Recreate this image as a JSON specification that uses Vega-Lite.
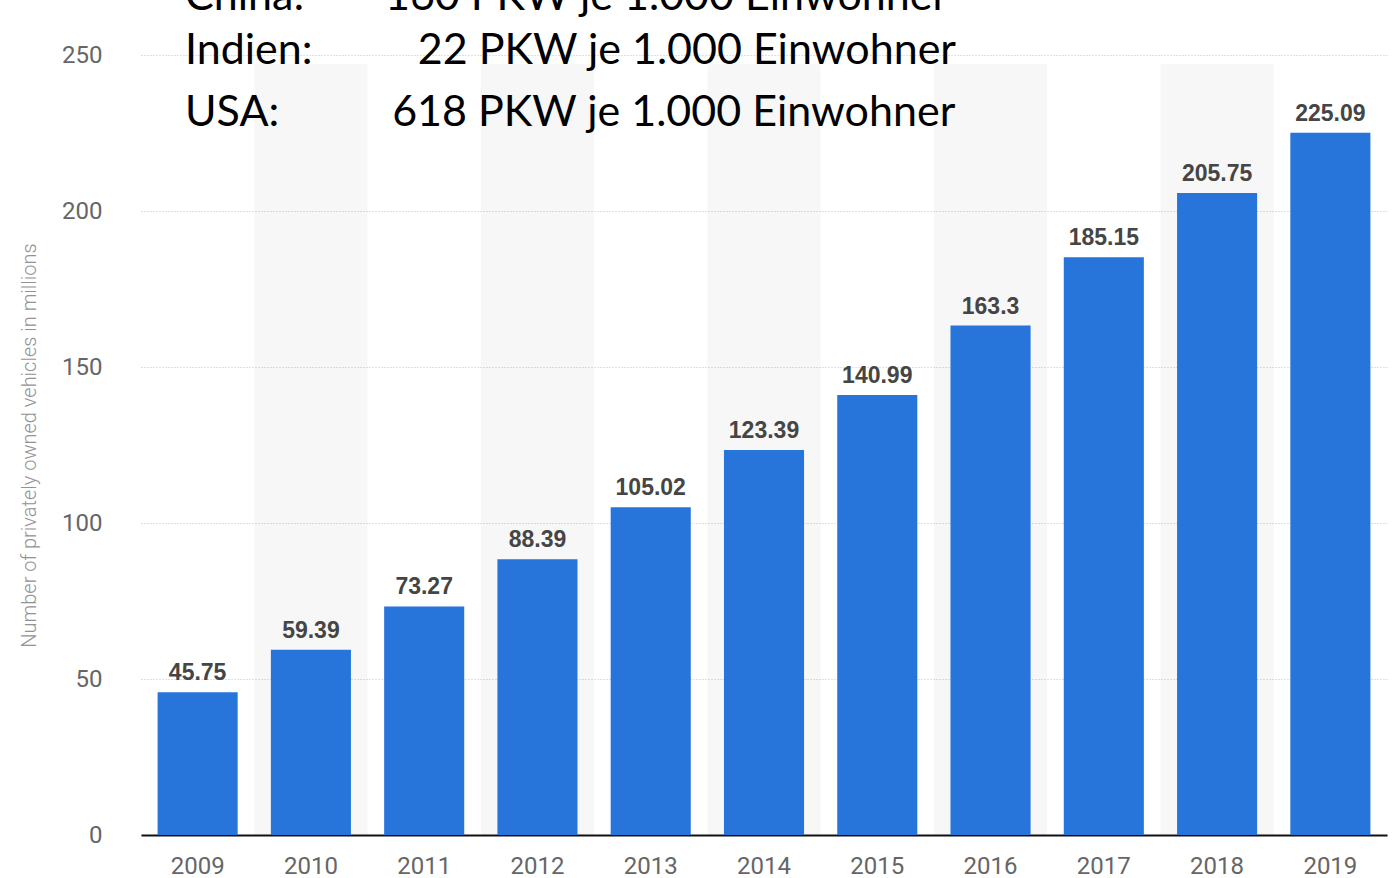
{
  "$schema": "https://vega.github.io/schema/vega-lite/v6.json",
  "width": 1246,
  "height": 780,
  "autosize": {"type": "none"},
  "padding": {"left": 141, "top": 55, "right": 5, "bottom": 43},
  "background": "white",
  "config": {
    "view": {"stroke": null},
    "axisX": {
      "labelAngle": 0,
      "labelAlign": "center",
      "labelBaseline": "top",
      "labelFont": "Roboto",
      "labelFontSize": 24,
      "labelColor": "#666666",
      "labelPadding": 19,
      "ticks": false,
      "domain": true,
      "domainColor": "#111111",
      "domainWidth": 2,
      "grid": false,
      "zindex": 1
    },
    "axisY": {
      "titleFont": "Roboto",
      "titleFontSize": 20,
      "titleFontWeight": 300,
      "titleColor": "#939393",
      "titlePadding": 22,
      "labelFont": "Roboto",
      "labelFontSize": 24,
      "labelColor": "#666666",
      "labelPadding": 39,
      "ticks": false,
      "domain": false,
      "grid": true,
      "gridColor": "#c0c0c0",
      "gridDash": [1, 2],
      "gridWidth": 1
    }
  },
  "layer": [
    {
      "data": {
        "values": [
          {"year": "2009", "vehicles": 45.75},
          {"year": "2010", "vehicles": 59.39},
          {"year": "2011", "vehicles": 73.27},
          {"year": "2012", "vehicles": 88.39},
          {"year": "2013", "vehicles": 105.02},
          {"year": "2014", "vehicles": 123.39},
          {"year": "2015", "vehicles": 140.99},
          {"year": "2016", "vehicles": 163.3},
          {"year": "2017", "vehicles": 185.15},
          {"year": "2018", "vehicles": 205.75},
          {"year": "2019", "vehicles": 225.09}
        ]
      },
      "layer": [
        {
          "transform": [{"filter": "toNumber(datum.year) % 2 == 0"}],
          "mark": {"type": "bar", "width": {"band": 1.4144}, "fill": "black", "opacity": 0.03},
          "encoding": {
            "x": {"field": "year", "type": "ordinal", "title": null},
            "y": {"datum": 0, "type": "quantitative", "title": "Number of privately owned vehicles in millions", "axis": {"values": [0, 50, 100, 150, 200, 250]}},
            "y2": {"datum": 247}
          }
        },
        {
          "mark": {"type": "bar", "color": "#2775db"},
          "encoding": {
            "x": {
              "field": "year",
              "type": "ordinal",
              "title": null,
              "scale": {"paddingInner": 0.293, "paddingOuter": 0.1465}
            },
            "y": {
              "field": "vehicles",
              "type": "quantitative",
              "title": "Number of privately owned vehicles in millions",
              "scale": {"domain": [0, 250], "nice": false},
              "axis": {"values": [0, 50, 100, 150, 200, 250]}
            }
          }
        },
        {
          "mark": {"type": "text", "baseline": "bottom", "dy": -7, "font": "Liberation Sans", "fontWeight": "bold", "fontSize": 23, "letterSpacing": 2.6, "fill": "#454545"},
          "encoding": {
            "x": {"field": "year", "type": "ordinal"},
            "y": {"field": "vehicles", "type": "quantitative"},
            "text": {"field": "vehicles", "type": "quantitative", "format": ".2~f"}
          }
        }
      ]
    },
    {
      "data": {
        "values": [
          {"zeile": 1, "land": "China:", "wert": "160 PKW je 1.000 Einwohner"},
          {"zeile": 2, "land": "Indien:", "wert": "22 PKW je 1.000 Einwohner"},
          {"zeile": 3, "land": "USA:", "wert": "618 PKW je 1.000 Einwohner"}
        ]
      },
      "encoding": {
        "y": {"field": "zeile", "type": "quantitative", "scale": {"domain": [2.07, 14.65], "reverse": true, "nice": false, "zero": false}, "axis": null}
      },
      "layer": [
        {
          "transform": [{"filter": "datum.zeile == 1"}],
          "mark": {"type": "text", "align": "left", "baseline": "middle", "dy": 8, "font": "Lato", "fontSize": 43, "fill": "black", "clip": false},
          "encoding": {
            "x": {"datum": "2009", "bandPosition": 0.342},
            "text": {"field": "land", "type": "nominal"}
          }
        },
        {
          "transform": [{"filter": "datum.zeile == 1"}],
          "mark": {"type": "text", "align": "left", "baseline": "middle", "dy": 8, "font": "Lato", "fontSize": 43, "fill": "black", "clip": false},
          "encoding": {
            "x": {"datum": "2011", "bandPosition": 0.01},
            "text": {"field": "wert", "type": "nominal"}
          }
        },
        {
          "transform": [{"filter": "datum.zeile > 1"}],
          "mark": {"type": "text", "align": "left", "baseline": "middle", "font": "Lato", "fontSize": 43, "fill": "black", "clip": false},
          "encoding": {
            "x": {"datum": "2009", "bandPosition": 0.342},
            "text": {"field": "land", "type": "nominal"}
          }
        },
        {
          "transform": [{"filter": "datum.zeile == 2"}],
          "mark": {"type": "text", "align": "left", "baseline": "middle", "font": "Lato", "fontSize": 43, "fill": "black", "clip": false},
          "encoding": {
            "x": {"datum": "2011", "bandPosition": 0.42},
            "text": {"field": "wert", "type": "nominal"}
          }
        },
        {
          "transform": [{"filter": "datum.zeile == 3"}],
          "mark": {"type": "text", "align": "left", "baseline": "middle", "font": "Lato", "fontSize": 43, "fill": "black", "clip": false},
          "encoding": {
            "x": {"datum": "2011", "bandPosition": 0.1},
            "text": {"field": "wert", "type": "nominal"}
          }
        }
      ]
    }
  ],
  "resolve": {"scale": {"y": "independent"}}
}
